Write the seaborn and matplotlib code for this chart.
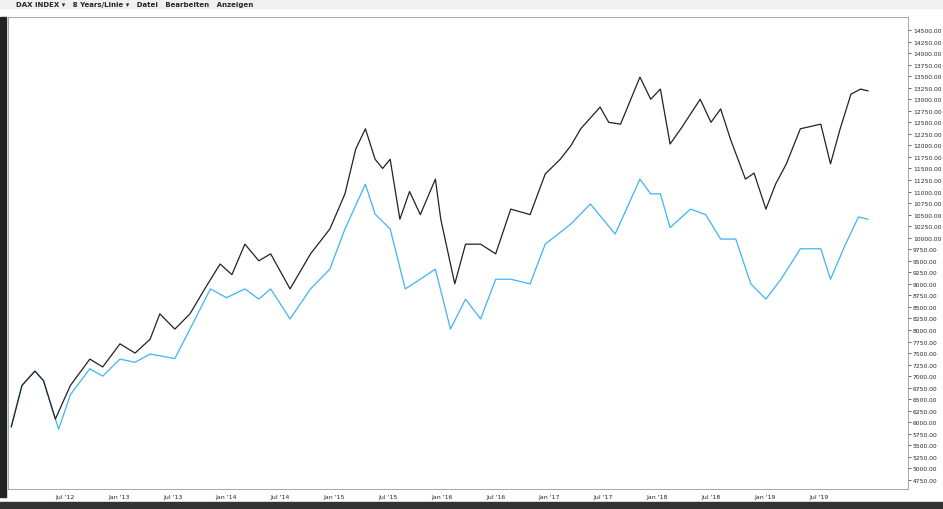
import matplotlib
matplotlib.use("Agg")
import matplotlib.pyplot as plt
import seaborn as sns
import pandas as pd
import numpy as np

sns.set_style("white")
plt.rcParams['font.family'] = ['DejaVu Sans']

black_t = [2012.0,2012.1,2012.22,2012.3,2012.41,2012.55,2012.73,2012.85,2013.01,2013.15,2013.29,2013.38,2013.52,2013.66,2013.8,2013.94,2014.05,2014.17,2014.3,2014.41,2014.59,2014.78,2014.96,2015.10,2015.20,2015.29,2015.38,2015.45,2015.52,2015.61,2015.7,2015.80,2015.94,2015.99,2016.12,2016.22,2016.36,2016.50,2016.64,2016.82,2016.96,2017.10,2017.2,2017.29,2017.47,2017.55,2017.66,2017.84,2017.94,2018.03,2018.12,2018.22,2018.40,2018.5,2018.59,2018.68,2018.82,2018.9,2019.01,2019.10,2019.2,2019.33,2019.52,2019.61,2019.70,2019.80,2019.89,2019.96]
black_v = [5900,6800,7110,6900,6070,6800,7370,7200,7700,7500,7800,8350,8020,8350,8900,9430,9200,9860,9500,9650,8890,9650,10190,10950,11920,12360,11700,11500,11700,10400,11000,10500,11270,10400,9000,9860,9860,9650,10620,10500,11380,11700,12000,12360,12830,12500,12460,13480,13000,13220,12030,12360,13000,12500,12790,12140,11270,11400,10620,11160,11600,12360,12460,11600,12360,13110,13220,13180]
blue_t = [2012.0,2012.1,2012.22,2012.3,2012.44,2012.55,2012.73,2012.85,2013.01,2013.15,2013.29,2013.52,2013.7,2013.85,2014.0,2014.17,2014.3,2014.41,2014.59,2014.78,2014.96,2015.10,2015.29,2015.38,2015.52,2015.66,2015.80,2015.94,2016.08,2016.22,2016.36,2016.50,2016.64,2016.82,2016.96,2017.2,2017.38,2017.61,2017.84,2017.94,2018.03,2018.12,2018.31,2018.45,2018.59,2018.73,2018.87,2019.01,2019.15,2019.33,2019.52,2019.61,2019.75,2019.87,2019.96]
blue_v = [5900,6800,7110,6900,5850,6600,7160,7000,7370,7300,7480,7380,8200,8890,8700,8890,8670,8890,8240,8890,9320,10190,11160,10510,10190,8890,9100,9320,8020,8670,8240,9100,9100,9000,9860,10300,10730,10080,11270,10950,10950,10220,10620,10500,9970,9970,9000,8670,9100,9760,9760,9100,9860,10450,10400]

yticks = np.arange(4750, 14501, 250)
xtick_pos = [2012.5 + 0.5*i for i in range(15)]
xtick_lab = ["Jul '12","Jan '13","Jul '13","Jan '14","Jul '14","Jan '15","Jul '15","Jan '16","Jul '16","Jan '17","Jul '17","Jan '18","Jul '18","Jan '19","Jul '19"]

fig = plt.figure(figsize=(9.43, 5.1), dpi=100)
ax = fig.add_axes([8/943, 1-490/510, 900/943, 472/510])
df_b = pd.DataFrame({"t": black_t, "v": black_v})
df_u = pd.DataFrame({"t": blue_t, "v": blue_v})
sns.lineplot(data=df_u, x="t", y="v", ax=ax, color="#3fb4f5", lw=0.9)
sns.lineplot(data=df_b, x="t", y="v", ax=ax, color="#222222", lw=0.9)
ax.set_xlim(2011.97, 2020.33)
ax.set_ylim(4555, 14782)
ax.yaxis.tick_right()
ax.set_yticks(yticks)
ax.set_yticklabels([f"{v:.2f}" for v in yticks], fontsize=4.3)
ax.set_xticks(xtick_pos)
ax.set_xticklabels(xtick_lab, fontsize=4.5)
ax.tick_params(length=2, pad=1.5, width=0.5)
ax.set_xlabel(""); ax.set_ylabel("")
for s in ax.spines.values():
    s.set_linewidth(0.6); s.set_color("#999999")

fig.patches.append(plt.Rectangle((0, 0), 1, 7/510, transform=fig.transFigure, color="#333333"))
fig.patches.append(plt.Rectangle((0, 12/510), 6/943, 1-30/510, transform=fig.transFigure, color="#222222"))
fig.patches.append(plt.Rectangle((0, 1-9/510), 1, 9/510, transform=fig.transFigure, color="#f0f0f0"))
fig.text(16/943, 1-5/510, "DAX INDEX ▾   8 Years/Linie ▾   Datei   Bearbeiten   Anzeigen", fontsize=5, va="center", fontweight="bold")
fig.savefig("out.png", dpi=100)
